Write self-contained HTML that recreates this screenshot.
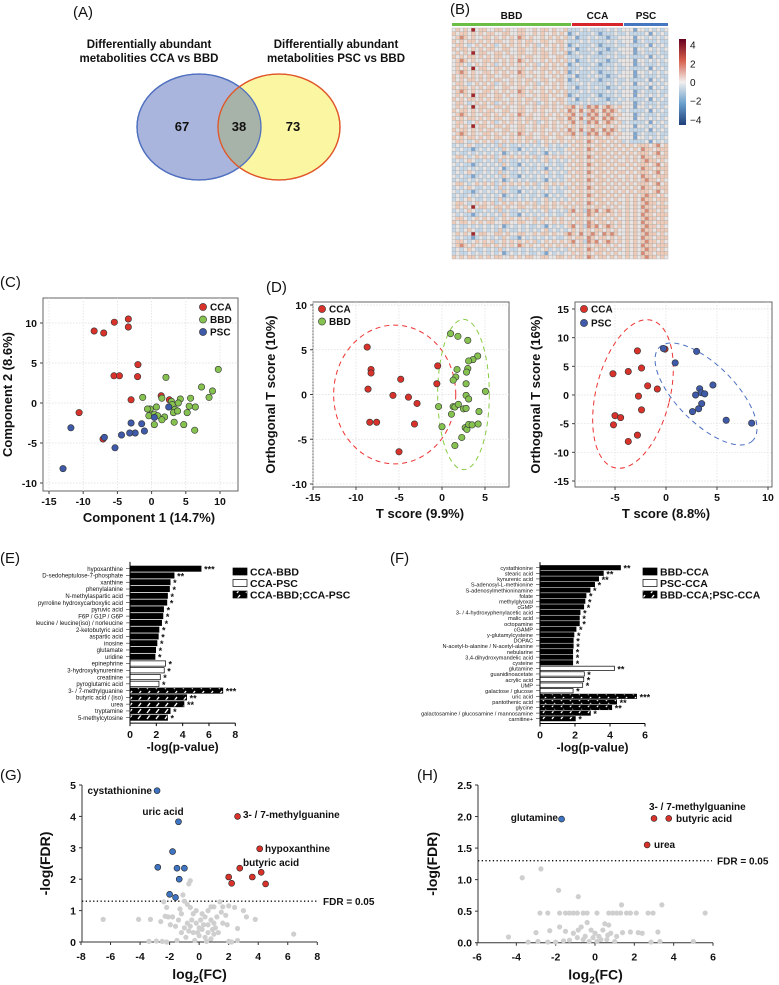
<!DOCTYPE html>
<html><head><meta charset="utf-8"><style>
html,body{margin:0;padding:0;background:#fff;}
svg{display:block;font-family:"Liberation Sans",Arial,sans-serif;}
</style></head><body>
<svg id="fig" width="779" height="985" viewBox="0 0 779 985" xmlns="http://www.w3.org/2000/svg">
<defs>
<pattern id="hatch" patternUnits="userSpaceOnUse" width="9" height="6">
<rect width="9" height="6" fill="#000"/>
<path d="M3,5 L6,1" stroke="#fff" stroke-width="1.4"/>
</pattern>
</defs>
</svg>
<script>
// ---------- DATA ----------
const vennCounts = [67, 38, 73];
const bbdSeg = {B1:"454547455445545445544545545445",B2:"545545454554455445544545445454",B3:"456545445545454546545445454545",B4:"545455454545544545455445544554",B5:"455434545453454545454534545454",B6:"343454334343534334343434534343",B7:"434332343434354332434343434334",B8:"343343434343423434343343243434"};
const ccaSeg = {C1:"33343433334343",C2:"23433343233343",C3:"34233434332334",C4:"56453656456545",C5:"65464565465654",C6:"45454545545454",C7:"54554654554545"};
const pscSeg = {P1:"444244343434",P2:"343333424343",P3:"444234333433",P4:"545455545645",P5:"454546554555",P6:"454545655454"};
const heatRows = ["B1C1P1","B2C2P2","B3C3P1","B4C1P3","B5C2P2","B2C3P1","B1C2P3","B4C1P2","B3C3P1","B5C2P3",
"B1C1P2","B3C2P1","B2C3P3","B4C2P2","B5C1P1","B2C3P2","B3C1P3","B1C2P1","B4C3P2","B5C1P3",
"B1C4P1","B2C5P2","B3C4P3","B4C5P1","B5C4P2","B1C6P1","B2C5P2","B3C4P3","B4C6P1","B5C7P2",
"B6C6P4","B7C7P5","B8C6P4","B5C7P5","B6C6P6","B7C7P4","B8C6P5","B6C7P4","B7C6P5","B8C7P6",
"B5C6P4","B6C7P5","B7C6P4","B8C7P6","B6C6P5","B5C7P6","B1C6P5","B6C4P6","B7C7P5","B5C6P6",
"B2C7P5","B8C4P6","B6C6P5","B1C5P6","B7C7P5","B5C4P6","B3C6P5","B6C7P6","B8C6P5","B4C7P6"];
const cCCAx=[-8.4,-7.0,-5.45,-3.4,-3.4,-2.0,-2.05,-5.5,-4.7,-3.0,1.4,2.6,-10.6,-7.1];
const cCCAy=[9.0,8.75,10.1,10.5,9.5,4.8,3.3,3.4,3.4,0.4,0.9,0.4,-1.2,-4.5];
const cBBDx=[-1.3,2.1,9.75,7.3,8.9,8.4,5.7,4.2,2.9,1.5,-0.2,-0.6,0.7,3.0,3.9,5.5,6.4,3.4,3.2,3.8,5.2,-0.4,0.4,0.9,1.9,1.5,0.4,3.3,4.7,6.3];
const cBBDy=[0.7,3.2,4.2,2.0,1.5,0.7,0.6,0.5,0.2,0.6,-0.75,-0.75,-0.5,-0.2,0,-0.4,-0.5,-0.8,-1.2,-1.0,-1.2,-1.6,-1.4,-1.6,-1.75,-2.1,-2.7,-2.4,-2.7,-3.4];
const cPSCx=[2.5,0.4,-3.0,-1.45,-1.05,-2.4,-3.2,-4.4,-6.9,-5.35,-11.8,-12.95];
const cPSCy=[-0.5,-1.8,-2.5,-2.6,-3.5,-3.75,-3.75,-4.0,-4.3,-5.6,-3.1,-8.2];
const d1CCAx=[-8.7,-8.25,-8.25,-8.6,-5.7,-4.8,-3.9,-2.9,-3.2,-8.4,-7.6,-5.0,-0.5,-0.6];
const d1CCAy=[5.3,2.8,2.4,0.6,-0.1,1.7,-0.3,-1.0,-3.3,-3.1,-3.1,-6.4,3.2,1.2];
const d1BBDx=[1.0,1.85,3.0,4.15,3.6,3.1,3.0,2.85,1.75,1.6,1.3,2.8,5.05,2.8,3.1,-0.4,1.3,1.5,1.9,2.5,2.8,4.3,1.1,0,2.7,2.9,3.1,3.5,4.2,2.3,1.5];
const d1BBDy=[6.8,6.5,6.05,4.3,3.9,3.75,2.9,2.5,2.8,1.95,1.6,1.2,0.35,-0.1,-0.5,-1.35,-1.35,-1.4,-1.1,-1.6,-1.55,-1.9,-2.2,-3.6,-3.7,-3.9,-3.35,-3.4,-3.3,-4.8,-5.7];
const d2CCAx=[-5.2,-3.7,-2.8,-2.4,-2.7,-2.4,-1.8,-0.85,-0.1,-5.0,-4.45,-5.15,-2.8,-3.7];
const d2CCAy=[3.7,4.1,7.7,4.7,-0.2,-2.6,1.6,1.05,8.0,-3.6,-3.95,-5.2,-7.0,-8.1];
const d2PSCx=[-0.25,0.9,3.0,3.3,3.45,2.9,3.8,4.6,3.5,3.2,2.6,5.9,8.4];
const d2PSCy=[8.1,5.6,7.6,1.1,0.4,0,0.2,1.75,-1.5,-2.4,-2.9,-4.4,-4.9];
const eNames=["hypoxanthine","D-sedoheptulose-7-phosphate","xanthine","phenylalanine","N-methylaspartic acid","pyrroline hydroxycarboxylic acid","pyruvic acid","F6P / G1P / G6P","leucine / leucine(iso) / norleucine","2-ketobutyric acid","aspartic acid","inosine","glutamate","uridine","epinephrine","3-hydroxykynurenine","creatinine","pyroglutamic acid","3- / 7-methylguanine","butyric acid / (iso)","urea","tryptamine","5-methylcytosine"];
const eValues=[5.4,3.35,3.05,3.0,2.85,2.8,2.55,2.5,2.4,2.2,2.15,2.05,1.95,1.9,2.7,2.6,2.3,2.2,7.05,4.3,4.1,3.05,2.85];
const eGroups=[0,0,0,0,0,0,0,0,0,0,0,0,0,0,1,1,1,1,2,2,2,2,2];
const eStars=["***","**","*","*","*","*","*","*","*","*","*","*","*","*","*","*","*","*","***","**","**","*","*"];
const eTicks=[0,2,4,6,8];
const eLegend=["CCA-BBD","CCA-PSC","CCA-BBD;CCA-PSC"];
const fNames=["cystathionine","stearic acid","kynurenic acid","S-adenosyl-L-methionine","S-adenosylmethioninamine","folate","methylglyoxal","cGMP","3- / 4-hydroxyphenylacetic acid","malic acid","octopamine","cGAMP","y-glutamylcysteine","DOPAC","N-acetyl-b-alanine / N-acetyl-alanine","nebularine","3,4-dihydroxymandelic acid","cysteine","glutamine","guanidinoacetate","acrylic acid","UMP","galactose / glucose","uric acid","pantothenic acid","glycine","galactosamine / glucosamine / mannosamine","carnitine+"];
const fValues=[4.6,3.62,3.35,3.12,2.86,2.63,2.57,2.5,2.29,2.25,2.25,2.06,1.94,1.9,1.9,1.87,1.87,1.87,4.25,2.53,2.5,2.44,1.89,5.52,4.38,4.1,2.88,2.02];
const fGroups=[0,0,0,0,0,0,0,0,0,0,0,0,0,0,0,0,0,0,1,1,1,1,1,2,2,2,2,2];
const fStars=["**","**","**","*","*","*","*","*","*","*","*","*","*","*","*","*","*","*","**","*","*","*","*","***","**","**","*","*"];
const fTicks=[0,2,4,6];
const fLegend=["BBD-CCA","PSC-CCA","BBD-CCA;PSC-CCA"];
const gBlueX=[-2.85,-1.4,-1.8,-2.8,-1.5,-1.0,-1.35,-2.0,-1.6];
const gBlueY=[4.82,3.83,2.88,2.38,2.35,2.35,2.0,1.52,1.42];
const gRedX=[2.6,4.1,2.75,4.2,2.0,3.6,2.2,4.5];
const gRedY=[4.0,2.97,2.35,2.22,2.07,2.07,1.87,1.85];
const gGrayX=[-6.5,-4.1,-3.3,-3.4,-2.9,-2.2,-2.1,-1.8,-2.4,-2.2,-1.95,-2.3,-2.6,-1.1,-1.0,-0.7,-0.6,1.4,1.0,0.8,1.6,2.0,2.4,3.0,3.2,3.8,2.6,2.2,2.0,2.6,6.4,1.9,1.8,1.5,1.2,1.0,0.8,0.6,0.4,0.2,-0.2,-0.4,-0.6,-0.8,-1.2,-1.4,-1.6,-1.2,-0.9,-0.6,-0.4,-0.2,0,0.2,0.4,0.6,0.8,1.0,1.3,1.6,-0.3,0,0.1,-0.5,-0.8,-1.0,0.3,-0.1,0.5,-1.5,1.1,-0.7,0.9,-2.5,-1.3,0.6];
const gGrayY=[0.72,0.72,0.72,0.02,0.03,0,0.8,0.8,1.28,1.1,0.55,0.82,0.65,1.5,1.3,1.85,1.95,1.28,1.12,1.12,1.12,1.15,1.1,1.0,0.8,0.72,0.43,0,0.02,0.05,0.25,0.55,0.85,0.95,0.8,0.6,0.7,0.55,0.8,0.9,1.0,0.9,1.1,1.2,0.9,0.7,0.5,0.3,0.15,0.5,0.3,0.6,0.2,0.4,0.15,0.3,0.1,0.25,0.3,0.6,0.05,0.45,0.7,0.7,0.6,0.45,0.55,0.3,0.02,0.05,0.45,0.35,0.4,0.02,1.05,1.0];
const hBlueX=[-1.7]; const hBlueY=[1.96];
const hRedX=[3.0,3.75,2.65]; const hRedY=[1.97,1.97,1.55];
const hGrayX=[-2.8,-2.4,-1.8,-1.5,-1.3,-1.1,-0.9,-0.6,-0.4,0.1,0.7,0.9,1.1,1.3,1.6,1.8,2.1,2.7,2.95,5.6,-2.75,-3.7,-1.85,-0.85,1.35,3.4,-4.4,-3.0,-2.3,-1.8,-3.4,-2.9,-2.4,-2.0,-1.6,5.0,2.85,3.3,3.2,2.2,1.8,1.4,2.4,1.1,-0.9,-0.7,-0.4,-0.2,0,0.2,0.4,0.6,0.7,0.5,-0.5,-0.3,0.1,-1.1,-1.3,-1.5,0.8,-0.1,0.3,-0.6,1.0,-0.85,0.65];
const hGrayY=[0.47,0.47,0.47,0.47,0.47,0.47,0.47,0.47,0.47,0.47,0.47,0.47,0.47,0.47,0.47,0.47,0.47,0.47,0.47,0.47,1.17,1.03,0.83,0.73,0.6,0.6,0.09,0.16,0.19,0.25,0.01,0.02,0.01,0.01,0.03,0.02,0.01,0.02,0.17,0.16,0.17,0.16,0.15,0.1,0.08,0.25,0.32,0.2,0.15,0.1,0.2,0.05,0.28,0.3,0.1,0.02,0.02,0.15,0.04,0.18,0.15,0.08,0.05,0.05,0.02,0.2,0.12];

// ---------- DRAWING ----------
const NS="http://www.w3.org/2000/svg";
const svg=document.getElementById('fig');
function mk(tag,attrs,parent){const e=document.createElementNS(NS,tag);for(const k in attrs)e.setAttribute(k,attrs[k]);(parent||svg).appendChild(e);return e;}
function T(x,y,s,size,anchor,weight,parent){const e=mk('text',{x:x,y:y,'font-size':size,'text-anchor':anchor||'start','font-weight':weight||'bold',fill:'#111'},parent);e.textContent=s;return e;}
function lin(d0,d1,p0,p1){return v=>p0+(v-d0)*(p1-p0)/(d1-d0);}

[["(A)",73,17],["(B)",450,14],["(C)",0,287],["(D)",266,292],["(E)",0,563],["(F)",390,563],["(G)",0,780],["(H)",417,780]].forEach(p=>{
  const e=T(p[1],p[2],p[0],15,'start','normal');
  
  
});

{
const g=mk('g',{});


const c1=mk('ellipse',{cx:199,cy:127,rx:62,ry:53,fill:'#a9b5dc',stroke:'#4f6fbf','stroke-width':1.3},g);


const c2=mk('ellipse',{cx:279,cy:127,rx:61,ry:53,fill:'#fbf6a2',stroke:'#e0572a','stroke-width':1.3},g);


mk('clipPath',{id:'vclip'},g).appendChild(mk('ellipse',{cx:199,cy:127,rx:62,ry:53},g));
const ov=mk('ellipse',{cx:279,cy:127,rx:61,ry:53,fill:'#a7b3a8','clip-path':'url(#vclip)'},g);


mk('ellipse',{cx:199,cy:127,rx:62,ry:53,fill:'none',stroke:'#4f6fbf','stroke-width':1.3},g);
mk('ellipse',{cx:279,cy:127,rx:61,ry:53,fill:'none',stroke:'#e0572a','stroke-width':1.3},g);
const nx=[182,239,293];
vennCounts.forEach((v,i)=>{const e=T(nx[i],131,String(v),13,'middle','bold',g);

});
[["Differentially abundant",149,48],["metabolities CCA vs BBD",149,62],["Differentially abundant",336,48],["metabolities PSC vs BBD",336,62]].forEach(p=>{
const e=T(p[1],p[2],p[0],11.5,'middle','bold',g);

});
}

{
const g=mk('g',{});


const pal={1:'#35609f',2:'#7ea5cf',3:'#c4d8ea',4:'#e9e5e4',5:'#efcbb8',6:'#d98a74',7:'#a3282c'};
const x0=452,y0=28,W=216,H=231,nc=56,nr=heatRows.length;
const cw=W/nc,ch=H/nr;
heatRows.forEach((code,r)=>{
  const s=bbdSeg[code.slice(0,2)]+ccaSeg[code.slice(2,4)]+pscSeg[code.slice(4,6)];
  for(let c=0;c<nc;c++){
    const v=s[c]||'4';
    const rc=mk('rect',{x:(x0+c*cw).toFixed(2),y:(y0+r*ch).toFixed(2),width:cw.toFixed(2),height:ch.toFixed(2),fill:pal[v],stroke:'#aaa','stroke-width':0.35},g);
    
    
  }
});
const groups=[["BBD",452,571,'#6bbd45'],["CCA",572,623,'#d7262b'],["PSC",624,668,'#4776c0']];
groups.forEach(gr=>{
  const b=mk('rect',{x:gr[1],y:23,width:gr[2]-gr[1],height:3,fill:gr[3]},g);
  
  
  const t=T((gr[1]+gr[2])/2,19,gr[0],10,'middle','bold',g);
  
  
});
mk('linearGradient',{id:'cb',x1:0,y1:0,x2:0,y2:1},g);
const lg=g.querySelector('#cb');
[['0','#67001f'],['0.25','#d6604d'],['0.5','#f2efee'],['0.75','#6aa0cd'],['1','#1f3f7a']].forEach(s=>mk('stop',{offset:s[0],'stop-color':s[1]},lg));
const cb=mk('rect',{x:679,y:39,width:7,height:86,fill:'url(#cb)'},g);


const cbTicks=[4,2,0,-2,-4];const cs=lin(4.6,-4.6,39,125);
cbTicks.forEach(v=>{const t=T(690,cs(v)+4,v<0?'\u2212'+(-v):String(v),10,'start','normal',g);

});
}

function frame(name,L,R,Tp,B,xs,ys,xt,yt,xtitle,ytitle,xtx,ytx){
  const g=mk('g',{});
  
  
  const bg=mk('rect',{x:L,y:Tp,width:R-L,height:B-Tp,fill:'#fff',stroke:'#666','stroke-width':1},g);
  
  
  xt.forEach(v=>{const l=mk('line',{x1:xs(v),x2:xs(v),y1:Tp,y2:B,stroke:'#ddd','stroke-dasharray':'1.5,1.5','stroke-width':0.7},g);
    
    
    const t=T(xs(v),B+14,String(v),10.5,'middle','bold',g);
    
    
    mk('line',{x1:xs(v),x2:xs(v),y1:B,y2:B+3,stroke:'#444'},g);});
  yt.forEach(v=>{const l=mk('line',{x1:L,x2:R,y1:ys(v),y2:ys(v),stroke:'#ddd','stroke-dasharray':'1.5,1.5','stroke-width':0.7},g);
    
    
    const t=T(L-6,ys(v)+4,String(v),10.5,'end','bold',g);
    
    
    mk('line',{x1:L-3,x2:L,y1:ys(v),y2:ys(v),stroke:'#444'},g);});
  const xtl=T(xtx,B+31,xtitle,13,'middle','bold',g);
  
  
  const ytl=T(0,0,ytitle,13,'middle','bold',g);
  ytl.setAttribute('transform','translate('+ytx+','+((Tp+B)/2)+') rotate(-90)');
  
  
  return g;
}
function pts(g,xs,ys,X,Y,fill,name,r){
  X.forEach((v,i)=>{const c=mk('circle',{cx:xs(v),cy:ys(Y[i]),r:r||3.2,fill:fill,stroke:'#333','stroke-width':0.6},g);
  
  });
}
function legend(g,x,y0,dy,items){
  items.forEach((it,i)=>{const c=mk('circle',{cx:x,cy:y0+i*dy,r:3.6,fill:it[1],stroke:'#333','stroke-width':0.6},g);
  
  
  const t=T(x+7,y0+i*dy+3.5,it[0],10,'start','bold',g);
  
  });
}
const RED='#d8322b',GRN='#86c250',BLU='#3e5aa8';

{
const xs=lin(-15,10,49,220),ys=lin(0,10,403,323);
const g=frame('pca-plot',43,238,298,491,xs,ys,[-15,-10,-5,0,5,10],[10,5,0,-5,-10],'Component 1 (14.7%)','Component 2 (8.6%)',149,12);
pts(g,xs,ys,cCCAx,cCCAy,RED,'point-cca');
pts(g,xs,ys,cBBDx,cBBDy,GRN,'point-bbd');
pts(g,xs,ys,cPSCx,cPSCy,BLU,'point-psc');
legend(g,203,307,12.5,[["CCA",RED],["BBD",GRN],["PSC",BLU]]);
}
{
const xs=lin(0,5,442,485),ys=lin(0,10,394.5,305);
const g=frame('opls-cca-bbd',313,509,302,487,xs,ys,[-15,-10,-5,0,5],[10,5,0,-5,-10],'T score (9.9%)','Orthogonal T score (10%)',420,275);
const e1=mk('ellipse',{cx:xs(-5.5),cy:ys(0),rx:xs(1.6)-xs(-5.5),ry:ys(0)-ys(7.75),fill:'none',stroke:'#e33',"stroke-dasharray":'5,4','stroke-width':1},g);


const e2=mk('ellipse',{cx:xs(2.5),cy:ys(0),rx:xs(5.5)-xs(2.5),ry:ys(0)-ys(8.4),fill:'none',stroke:'#8c4',"stroke-dasharray":'5,4','stroke-width':1},g);


pts(g,xs,ys,d1CCAx,d1CCAy,RED,'point-cca');
pts(g,xs,ys,d1BBDx,d1BBDy,GRN,'point-bbd');
legend(g,322,309,12.5,[["CCA",RED],["BBD",GRN]]);
}
{
const xs=lin(0,5,666,717),ys=lin(0,15,395,309);
const g=frame('opls-cca-psc',575,772,302,487,xs,ys,[-5,0,5,10],[15,10,5,0,-5,-10,-15],'T score (8.8%)','Orthogonal T score (16%)',666,540);
const e1=mk('ellipse',{cx:633,cy:394,rx:37,ry:76,fill:'none',stroke:'#e33','stroke-dasharray':'5,4','stroke-width':1,transform:'rotate(14 633 394)'},g);


const e2=mk('ellipse',{cx:706,cy:394,rx:66,ry:29,fill:'none',stroke:'#4a6fc0','stroke-dasharray':'5,4','stroke-width':1,transform:'rotate(45 706 394)'},g);


pts(g,xs,ys,d2CCAx,d2CCAy,RED,'point-cca');
pts(g,xs,ys,d2PSCx,d2PSCy,BLU,'point-psc');
legend(g,584,309,14,[["CCA",RED],["PSC",BLU]]);
}

function bars(name,names,values,groups,stars,ticks,leg,x0,xmax,x1,y0,y1,lblSize,legX,legY){
  const g=mk('g',{});
  
  
  const xs=lin(0,xmax,x0,x1);
  const n=names.length,dy=(y1-y0)/(n-1),bh=dy*0.78;
  const fills=['#000','#fff','url(#hatch)'];
  names.forEach((nm,i)=>{
    const y=y0+i*dy;
    const b=mk('rect',{x:x0,y:y-bh/2,width:xs(values[i])-x0,height:bh,fill:fills[groups[i]],stroke:'#000','stroke-width':0.7},g);
    
    
    const l=T(x0-7,y+2.2,nm,lblSize,'end','normal',g);
    
    
    mk('line',{x1:x0-4,x2:x0,y1:y,y2:y,stroke:'#333','stroke-width':0.6},g);
    const s=T(xs(values[i])+3,y+4,stars[i],9,'start','bold',g);
    
    
  });
  const ab=y1+dy/2+2;
  mk('line',{x1:x0,x2:x0,y1:y0-dy,y2:ab,stroke:'#000','stroke-width':1},g);
  const ax=mk('line',{x1:x0,x2:xs(ticks[ticks.length-1]),y1:ab,y2:ab,stroke:'#000','stroke-width':1},g);
  
  
  ticks.forEach(v=>{mk('line',{x1:xs(v),x2:xs(v),y1:ab,y2:ab+3,stroke:'#000'},g);
    const t=T(xs(v),ab+15,String(v),10.5,'middle','bold',g);
    
    });
  const tt=T((x0+xs(ticks[ticks.length-1]))/2,ab+28,'-log(p-value)',12,'middle','bold',g);
  
  
  leg.forEach((s,i)=>{const r=mk('rect',{x:legX,y:legY+i*11.5-4,width:14,height:7,fill:fills[i],stroke:'#000','stroke-width':0.7},g);
    
    
    const t=T(legX+17,legY+i*11.5+3.5,s,10.5,'start','bold',g);
    
    });
}
bars('bar-chart-e',eNames,eValues,eGroups,eStars,eTicks,eLegend,130,8,235.3,568.7,717.7,6,233,572);
bars('bar-chart-f',fNames,fValues,fGroups,fStars,fTicks,fLegend,540,6,645,567.7,718.7,5.6,643,572);

function volcano(name,L,R,B,xs,ys,xt,yt,fmt,ytx,fdrX,data,labels){
  const g=mk('g',{});
  
  
  const top=ys(yt[yt.length-1]);
  mk('line',{x1:L,x2:L,y1:top,y2:B,stroke:'#333','stroke-width':1},g);
  mk('line',{x1:L,x2:R,y1:B,y2:B,stroke:'#333','stroke-width':1},g);
  xt.forEach(v=>{mk('line',{x1:xs(v),x2:xs(v),y1:B,y2:B+3,stroke:'#333'},g);
    const t=T(xs(v),B+18,String(v),10.5,'middle','bold',g);
    
    });
  yt.forEach(v=>{mk('line',{x1:L-3,x2:L,y1:ys(v),y2:ys(v),stroke:'#333'},g);
    const t=T(L-6,ys(v)+4,fmt(v),10.5,'end','bold',g);
    
    });
  const f=mk('line',{x1:L,x2:fdrX,y1:ys(1.3),y2:ys(1.3),stroke:'#111','stroke-width':1.4,'stroke-dasharray':'1.3,2.4'},g);
  
  
  const ft=T(fdrX+5,ys(1.3)+4,'FDR = 0.05',10,'start','bold',g);
  
  
  data[0][0].forEach((v,i)=>{const c=mk('circle',{cx:xs(v),cy:ys(data[0][1][i]),r:2.6,fill:'#cfcfcf'},g);
    
    });
  data[1][0].forEach((v,i)=>{const c=mk('circle',{cx:xs(v),cy:ys(data[1][1][i]),r:3,fill:'#3f74c2',stroke:'#222','stroke-width':0.6},g);
    
    });
  data[2][0].forEach((v,i)=>{const c=mk('circle',{cx:xs(v),cy:ys(data[2][1][i]),r:3,fill:'#d8322b',stroke:'#222','stroke-width':0.6},g);
    
    });
  labels.forEach(l=>{const t=T(l[1],l[2],l[0],10,l[3],'bold',g);
    
    });
  const xtl=mk('text',{x:(L+R)/2,y:B+37,'font-size':14,'text-anchor':'middle','font-weight':'bold',fill:'#111'},g);
  xtl.innerHTML='log<tspan font-size="10" dy="4">2</tspan><tspan dy="-4">(FC)</tspan>';
  
  
  const ytl=T(0,0,'-log(FDR)',14,'middle','bold',g);
  ytl.setAttribute('transform','translate('+ytx+','+((top+B)/2)+') rotate(-90)');
  
  
}
volcano('volcano-g',82,317,942,lin(-8,8,81,317.3),lin(0,5,942,785),[-8,-6,-4,-2,0,2,4,6,8],[0,1,2,3,4,5],v=>String(v),50,318,
  [[gGrayX,gGrayY],[gBlueX,gBlueY],[gRedX,gRedY]],
  [["cystathionine",152,794,'end'],["uric acid",163,815,'middle'],["3- / 7-methylguanine",243,818,'start'],["hypoxanthine",265,852,'start'],["butyric acid",243,866,'start']]);
volcano('volcano-h',478,713,942.7,lin(-6,6,477,713),lin(0,2.5,942.7,785),[-6,-4,-2,0,2,4,6],[0,0.5,1,1.5,2,2.5],v=>v.toFixed(1),437,712,
  [[hGrayX,hGrayY],[hBlueX,hBlueY],[hRedX,hRedY]],
  [["glutamine",558,821,'end'],["3- / 7-methylguanine",649,810,'start'],["butyric acid",676,822,'start'],["urea",654,848,'start']]);
</script>
</body></html>
